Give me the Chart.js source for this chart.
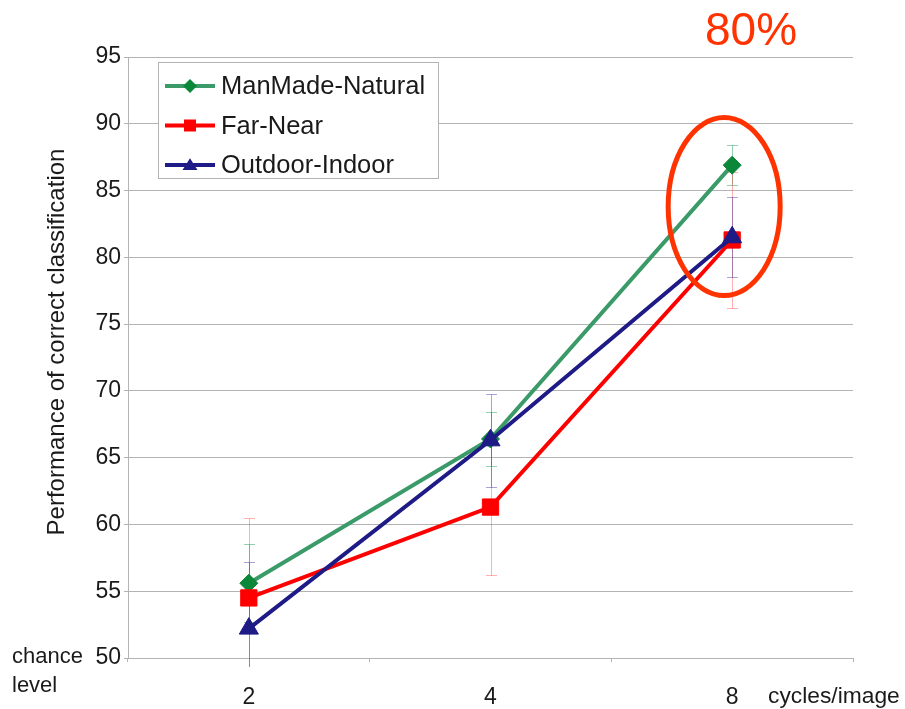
<!DOCTYPE html>
<html>
<head>
<meta charset="utf-8">
<script src="https://cdn.jsdelivr.net/npm/chart.js@4.4.1/dist/chart.umd.min.js"></script>
<style>
  html, body { margin: 0; padding: 0; background: #ffffff; }
  canvas { display: block; }
</style>
</head>
<body>
<canvas id="chart" width="905" height="709"></canvas>
<script>
// Spatial frequency (cycles/image) at which each scene property was classified
const categories = ['2', '4', '8'];

// Mean percentage of correct classification and its error (+/-)
const manMadeNatural    = [55.6, 66.4, 86.9];
const manMadeNaturalErr = [2.9, 2.0, 1.5];
const farNear           = [54.5, 61.3, 81.3];
const farNearErr        = [6.0, 5.1, 5.1];
const outdoorIndoor     = [52.2, 66.3, 81.5];
const outdoorIndoorErr  = [5.0, 3.5, 3.0];

// Vertical axis range and step
const yMin = 50;
const yMax = 95;
const yStep = 5;

const FONT = '"Liberation Sans", Arial, Helvetica, sans-serif';
const GRID = '#b3b3b3';
const TEXT = '#1a1a1a';
const ACCENT = '#ff3300';

const series = [
  { label: 'ManMade-Natural', data: manMadeNatural, err: manMadeNaturalErr,
    line: '#3a9a68', marker: '#0b873a', errColor: 'rgba(58,170,110,0.55)',
    style: 'rectRot', radius: 9, order: 3 },
  { label: 'Far-Near', data: farNear, err: farNearErr,
    line: '#ff0000', marker: '#ff0000', errColor: 'rgba(255,60,60,0.40)',
    style: 'rect', radius: 11.5, order: 2 },
  { label: 'Outdoor-Indoor', data: outdoorIndoor, err: outdoorIndoorErr,
    line: '#1e1a86', marker: '#1e1a86', errColor: 'rgba(60,50,160,0.45)',
    style: 'triangle', radius: 11, order: 1 }
];

// Vertical error bars with small caps, drawn beneath the series lines
const errorBars = {
  id: 'errorBars',
  beforeDatasetsDraw(chart) {
    const { ctx, chartArea, scales: { y } } = chart;
    ctx.save();
    ctx.beginPath();
    ctx.rect(chartArea.left, chartArea.top - 10, chartArea.right - chartArea.left,
             chartArea.bottom - chartArea.top + 19);
    ctx.clip();
    chart.data.datasets.forEach((ds, i) => {
      const meta = chart.getDatasetMeta(i);
      ctx.strokeStyle = ds.errColor;
      ctx.lineWidth = 1;
      meta.data.forEach((pt, j) => {
        const v = ds.data[j], e = ds.errors[j];
        const x = Math.round(pt.x) + 0.5;
        const yt = Math.round(y.getPixelForValue(v + e)) + 0.5;
        const yb = Math.round(y.getPixelForValue(v - e)) + 0.5;
        ctx.beginPath();
        ctx.moveTo(x, yt); ctx.lineTo(x, yb);
        ctx.moveTo(x - 5.5, yt); ctx.lineTo(x + 5.5, yt);
        ctx.moveTo(x - 5.5, yb); ctx.lineTo(x + 5.5, yb);
        ctx.stroke();
      });
    });
    ctx.restore();
  }
};

function drawMarker(ctx, style, x, y, r) {
  ctx.beginPath();
  if (style === 'rectRot') {
    ctx.moveTo(x - r, y); ctx.lineTo(x, y - r); ctx.lineTo(x + r, y); ctx.lineTo(x, y + r);
  } else if (style === 'rect') {
    ctx.rect(x - r, y - r, 2 * r, 2 * r);
  } else {
    const h = r * 0.9;
    ctx.moveTo(x, y - h); ctx.lineTo(x + r, y + h * 0.75); ctx.lineTo(x - r, y + h * 0.75);
  }
  ctx.closePath();
  ctx.fill();
}

// Boxed legend, axis annotations and the highlighted result
const decorations = {
  id: 'decorations',
  afterDraw(chart) {
    const { ctx, scales: { x, y } } = chart;
    ctx.save();

    // legend box
    const bx = 158.5, by = 62.5, bw = 280, bh = 116;
    ctx.fillStyle = '#ffffff';
    ctx.fillRect(bx, by, bw, bh);
    ctx.strokeStyle = GRID;
    ctx.lineWidth = 1;
    ctx.strokeRect(bx, by, bw, bh);
    const rows = [86, 125.5, 165];
    const legendSize = { rectRot: 7, rect: 6, triangle: 7.5 };
    chart.data.datasets.forEach((ds, i) => {
      const cy = rows[i];
      ctx.strokeStyle = ds.borderColor;
      ctx.lineWidth = 4;
      ctx.beginPath();
      ctx.moveTo(165, cy); ctx.lineTo(215, cy);
      ctx.stroke();
      ctx.fillStyle = ds.pointBackgroundColor;
      drawMarker(ctx, ds.pointStyle, 190, cy, legendSize[ds.pointStyle]);
      ctx.fillStyle = TEXT;
      ctx.font = '25.5px ' + FONT;
      ctx.textAlign = 'left';
      ctx.textBaseline = 'middle';
      ctx.fillText(ds.label, 221, cy + 1);
    });

    // vertical axis title, placed a little above the axis middle
    ctx.save();
    ctx.translate(57, 342);
    ctx.rotate(-Math.PI / 2);
    ctx.fillStyle = TEXT;
    ctx.font = '24px ' + FONT;
    ctx.textAlign = 'center';
    ctx.textBaseline = 'middle';
    ctx.fillText('Performance of correct classification', 0, 0);
    ctx.restore();

    // axis side notes
    ctx.fillStyle = TEXT;
    ctx.font = '22px ' + FONT;
    ctx.textAlign = 'left';
    ctx.textBaseline = 'alphabetic';
    ctx.fillText('chance', 12, 663);
    ctx.fillText('level', 12, 692);
    ctx.font = '22.8px ' + FONT;
    ctx.fillText('cycles/image', 768, 703);

    // highlighted result at the highest frequency
    const cx = x.getPixelForValue(2) - 8;
    const cy = y.getPixelForValue(83.8);
    ctx.strokeStyle = ACCENT;
    ctx.lineWidth = 5;
    ctx.beginPath();
    ctx.ellipse(cx, cy, 56, 89, 0, 0, Math.PI * 2);
    ctx.stroke();
    ctx.fillStyle = ACCENT;
    ctx.font = '46px ' + FONT;
    ctx.textAlign = 'center';
    ctx.fillText('80%', 751, 45);

    ctx.restore();
  }
};

new Chart(document.getElementById('chart'), {
  type: 'line',
  data: {
    labels: categories,
    datasets: series.map(s => ({
      label: s.label,
      data: s.data,
      errors: s.err,
      errColor: s.errColor,
      borderColor: s.line,
      borderWidth: 4,
      pointStyle: s.style,
      pointRadius: s.radius,
      pointBackgroundColor: s.marker,
      pointBorderColor: s.marker,
      pointBorderWidth: 1,
      tension: 0,
      fill: false,
      order: s.order,
      clip: false
    }))
  },
  options: {
    responsive: false,
    animation: false,
    layout: { padding: { left: 40, right: 52, top: 57, bottom: 0 } },
    plugins: {
      legend: { display: false },
      tooltip: { enabled: false }
    },
    scales: {
      x: {
        offset: true,
        grid: { display: true, drawOnChartArea: false, drawTicks: true, tickLength: 4, color: GRID, offset: true },
        border: { display: false },
        ticks: { color: TEXT, font: { family: FONT, size: 23 }, padding: 22 },
        afterFit(scale) { scale.height = 51; }
      },
      y: {
        min: yMin,
        max: yMax,
        ticks: { stepSize: yStep, color: TEXT, font: { family: FONT, size: 23 }, padding: 3 },
        grid: { color: GRID, lineWidth: 1, tickLength: 4 },
        border: { display: true, color: GRID, width: 1 },
        afterFit(scale) { scale.width = 88; }
      }
    }
  },
  plugins: [errorBars, decorations]
});
</script>
</body>
</html>
